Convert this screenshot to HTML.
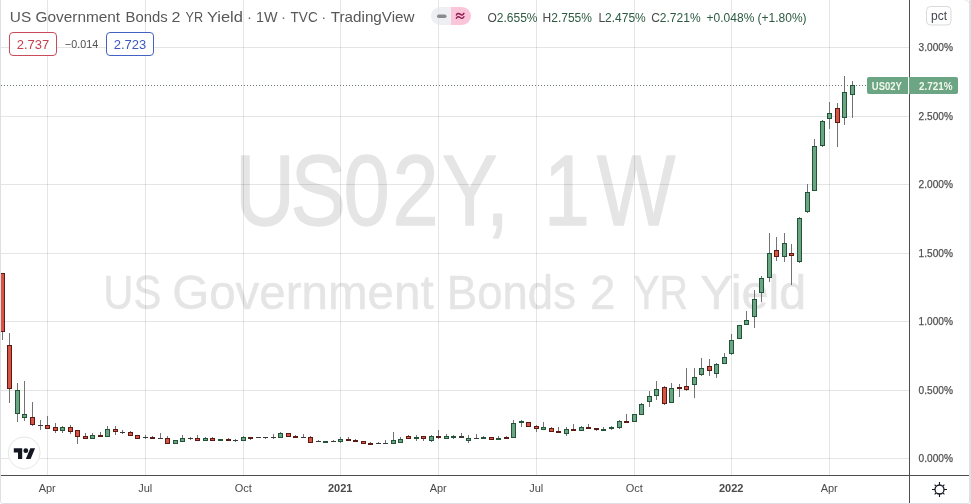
<!DOCTYPE html>
<html><head><meta charset="utf-8"><title>US02Y 1W</title>
<style>
html,body{margin:0;padding:0;background:#fff;}
body{width:971px;height:504px;overflow:hidden;position:relative;font-family:"Liberation Sans",Arial,sans-serif;}
svg{position:absolute;left:0;top:0;display:block;}
text{font-family:"Liberation Sans",Arial,sans-serif;}
</style></head><body>
<svg width="971" height="504" viewBox="0 0 971 504">
<rect x="0" y="0" width="971" height="504" fill="#fff"/>
<g fill="rgba(0,0,0,0.1)" shape-rendering="crispEdges"><rect x="1" y="47" width="908" height="1"/><rect x="1" y="116" width="908" height="1"/><rect x="1" y="184" width="908" height="1"/><rect x="1" y="253" width="908" height="1"/><rect x="1" y="321" width="908" height="1"/><rect x="1" y="390" width="908" height="1"/><rect x="1" y="458" width="908" height="1"/><rect x="47" y="0" width="1" height="475"/><rect x="145" y="0" width="1" height="475"/><rect x="243" y="0" width="1" height="475"/><rect x="340" y="0" width="1" height="475"/><rect x="438" y="0" width="1" height="475"/><rect x="536" y="0" width="1" height="475"/><rect x="634" y="0" width="1" height="475"/><rect x="731" y="0" width="1" height="475"/><rect x="829" y="0" width="1" height="475"/></g>
<g opacity="0.105" fill="#000" stroke="#000" stroke-linejoin="round">
<text transform="scale(0.823,1)" x="285.5 352.9 417.3 476.9 537.0 590.5 620 660.8 725.4" y="224.6" font-size="101" stroke-width="1.4">US02Y, 1W</text><text x="103.36" y="309" font-size="48.5" stroke-width="0.6" textLength="57.99" lengthAdjust="spacingAndGlyphs">US</text><text x="172.24" y="309" font-size="48.5" stroke-width="0.6" textLength="261.44" lengthAdjust="spacingAndGlyphs">Government</text><text x="446.85" y="309" font-size="48.5" stroke-width="0.6" textLength="129.09" lengthAdjust="spacingAndGlyphs">Bonds</text><text x="590.12" y="309" font-size="48.5" stroke-width="0.6" textLength="25.34" lengthAdjust="spacingAndGlyphs">2</text><text x="633.19" y="309" font-size="48.5" stroke-width="0.6" textLength="54.74" lengthAdjust="spacingAndGlyphs">YR</text><text x="700.3" y="309" font-size="48.5" stroke-width="0.6" textLength="105.94" lengthAdjust="spacingAndGlyphs">Yield</text>
</g>
<line x1="1" y1="85.5" x2="867" y2="85.5" stroke="#6d7d75" stroke-width="1" stroke-dasharray="1 2" shape-rendering="crispEdges"/>
<g fill="#737375" shape-rendering="crispEdges"><rect x="2" y="273" width="1" height="67"/><rect x="9" y="333" width="1" height="70"/><rect x="17" y="383" width="1" height="39"/><rect x="24" y="381" width="1" height="40"/><rect x="32" y="402" width="1" height="24"/><rect x="40" y="420" width="1" height="10"/><rect x="47" y="416" width="1" height="13"/><rect x="55" y="423" width="1" height="10"/><rect x="62" y="426" width="1" height="7"/><rect x="70" y="425" width="1" height="9"/><rect x="77" y="430" width="1" height="14"/><rect x="85" y="433" width="1" height="6"/><rect x="92" y="433" width="1" height="6"/><rect x="100" y="432" width="1" height="5"/><rect x="107" y="426" width="1" height="11"/><rect x="115" y="426" width="1" height="9"/><rect x="122" y="430" width="1" height="4"/><rect x="130" y="431" width="1" height="5"/><rect x="137" y="435" width="1" height="4"/><rect x="145" y="435" width="1" height="4"/><rect x="152" y="436" width="1" height="3"/><rect x="160" y="433" width="1" height="6"/><rect x="167" y="436" width="1" height="8"/><rect x="175" y="440" width="1" height="4"/><rect x="182" y="435" width="1" height="7"/><rect x="190" y="437" width="1" height="3"/><rect x="197" y="435" width="1" height="6"/><rect x="205" y="437" width="1" height="4"/><rect x="212" y="437" width="1" height="4"/><rect x="220" y="439" width="1" height="2"/><rect x="228" y="438" width="1" height="3"/><rect x="235" y="439" width="1" height="3"/><rect x="243" y="436" width="1" height="5"/><rect x="250" y="437" width="1" height="3"/><rect x="258" y="437" width="1" height="1"/><rect x="265" y="437" width="1" height="2"/><rect x="273" y="434" width="1" height="5"/><rect x="280" y="432" width="1" height="6"/><rect x="288" y="433" width="1" height="4"/><rect x="295" y="435" width="1" height="3"/><rect x="303" y="434" width="1" height="4"/><rect x="310" y="436" width="1" height="7"/><rect x="318" y="440" width="1" height="2"/><rect x="325" y="441" width="1" height="2"/><rect x="333" y="440" width="1" height="2"/><rect x="340" y="437" width="1" height="6"/><rect x="348" y="437" width="1" height="4"/><rect x="355" y="439" width="1" height="3"/><rect x="363" y="441" width="1" height="3"/><rect x="370" y="442" width="1" height="3"/><rect x="378" y="442" width="1" height="2"/><rect x="385" y="440" width="1" height="4"/><rect x="393" y="432" width="1" height="12"/><rect x="400" y="437" width="1" height="6"/><rect x="408" y="435" width="1" height="4"/><rect x="416" y="435" width="1" height="6"/><rect x="423" y="436" width="1" height="5"/><rect x="431" y="435" width="1" height="7"/><rect x="438" y="430" width="1" height="9"/><rect x="446" y="434" width="1" height="5"/><rect x="453" y="435" width="1" height="4"/><rect x="461" y="433" width="1" height="5"/><rect x="468" y="435" width="1" height="8"/><rect x="476" y="434" width="1" height="5"/><rect x="483" y="436" width="1" height="3"/><rect x="491" y="437" width="1" height="3"/><rect x="498" y="436" width="1" height="4"/><rect x="506" y="436" width="1" height="3"/><rect x="513" y="420" width="1" height="18"/><rect x="521" y="420" width="1" height="7"/><rect x="528" y="422" width="1" height="5"/><rect x="536" y="425" width="1" height="7"/><rect x="543" y="422" width="1" height="8"/><rect x="551" y="427" width="1" height="5"/><rect x="558" y="427" width="1" height="6"/><rect x="566" y="427" width="1" height="9"/><rect x="573" y="424" width="1" height="7"/><rect x="581" y="426" width="1" height="5"/><rect x="588" y="424" width="1" height="5"/><rect x="596" y="428" width="1" height="3"/><rect x="603" y="427" width="1" height="4"/><rect x="611" y="426" width="1" height="4"/><rect x="619" y="420" width="1" height="9"/><rect x="626" y="414" width="1" height="9"/><rect x="634" y="414" width="1" height="8"/><rect x="641" y="403" width="1" height="12"/><rect x="649" y="391" width="1" height="16"/><rect x="656" y="381" width="1" height="19"/><rect x="664" y="386" width="1" height="19"/><rect x="671" y="383" width="1" height="20"/><rect x="679" y="384" width="1" height="13"/><rect x="686" y="368" width="1" height="23"/><rect x="694" y="368" width="1" height="30"/><rect x="701" y="358" width="1" height="18"/><rect x="709" y="359" width="1" height="17"/><rect x="716" y="363" width="1" height="15"/><rect x="724" y="353" width="1" height="11"/><rect x="731" y="334" width="1" height="21"/><rect x="739" y="325" width="1" height="14"/><rect x="746" y="311" width="1" height="14"/><rect x="754" y="290" width="1" height="38"/><rect x="761" y="276" width="1" height="26"/><rect x="769" y="233" width="1" height="49"/><rect x="776" y="237" width="1" height="24"/><rect x="784" y="233" width="1" height="29"/><rect x="791" y="244" width="1" height="41"/><rect x="799" y="217" width="1" height="46"/><rect x="807" y="184" width="1" height="29"/><rect x="814" y="139" width="1" height="52"/><rect x="822" y="120" width="1" height="27"/><rect x="829" y="102" width="1" height="27"/><rect x="837" y="103" width="1" height="44"/><rect x="844" y="76" width="1" height="49"/><rect x="852" y="81" width="1" height="37"/></g>
<g shape-rendering="crispEdges"><rect x="0" y="273" width="5" height="59" fill="#5b1a13"/><rect x="1" y="274" width="3" height="57" fill="#d75442"/><rect x="7" y="345" width="5" height="44" fill="#5b1a13"/><rect x="8" y="346" width="3" height="42" fill="#d75442"/><rect x="15" y="390" width="5" height="24" fill="#225437"/><rect x="16" y="391" width="3" height="22" fill="#6ba583"/><rect x="22" y="414" width="5" height="4" fill="#225437"/><rect x="23" y="415" width="3" height="2" fill="#6ba583"/><rect x="30" y="417" width="5" height="8" fill="#5b1a13"/><rect x="31" y="418" width="3" height="6" fill="#d75442"/><rect x="38" y="425" width="5" height="1" fill="#3a3a3a"/><rect x="45" y="425" width="5" height="4" fill="#5b1a13"/><rect x="46" y="426" width="3" height="2" fill="#d75442"/><rect x="53" y="427" width="5" height="4" fill="#5b1a13"/><rect x="54" y="428" width="3" height="2" fill="#d75442"/><rect x="60" y="427" width="5" height="4" fill="#225437"/><rect x="61" y="428" width="3" height="2" fill="#6ba583"/><rect x="68" y="427" width="5" height="5" fill="#5b1a13"/><rect x="69" y="428" width="3" height="3" fill="#d75442"/><rect x="75" y="430" width="5" height="7" fill="#5b1a13"/><rect x="76" y="431" width="3" height="5" fill="#d75442"/><rect x="83" y="436" width="5" height="3" fill="#5b1a13"/><rect x="84" y="437" width="3" height="1" fill="#d75442"/><rect x="90" y="435" width="5" height="4" fill="#225437"/><rect x="91" y="436" width="3" height="2" fill="#6ba583"/><rect x="98" y="435" width="5" height="2" fill="#5b1a13"/><rect x="105" y="429" width="5" height="8" fill="#225437"/><rect x="106" y="430" width="3" height="6" fill="#6ba583"/><rect x="113" y="429" width="5" height="3" fill="#5b1a13"/><rect x="114" y="430" width="3" height="1" fill="#d75442"/><rect x="120" y="432" width="5" height="1" fill="#3a3a3a"/><rect x="128" y="432" width="5" height="4" fill="#5b1a13"/><rect x="129" y="433" width="3" height="2" fill="#d75442"/><rect x="135" y="435" width="5" height="4" fill="#5b1a13"/><rect x="136" y="436" width="3" height="2" fill="#d75442"/><rect x="143" y="437" width="5" height="1" fill="#3a3a3a"/><rect x="150" y="437" width="5" height="2" fill="#5b1a13"/><rect x="158" y="438" width="5" height="1" fill="#3a3a3a"/><rect x="165" y="438" width="5" height="6" fill="#5b1a13"/><rect x="166" y="439" width="3" height="4" fill="#d75442"/><rect x="173" y="440" width="5" height="4" fill="#225437"/><rect x="174" y="441" width="3" height="2" fill="#6ba583"/><rect x="180" y="438" width="5" height="4" fill="#225437"/><rect x="181" y="439" width="3" height="2" fill="#6ba583"/><rect x="188" y="438" width="5" height="1" fill="#3a3a3a"/><rect x="195" y="438" width="5" height="3" fill="#5b1a13"/><rect x="196" y="439" width="3" height="1" fill="#d75442"/><rect x="203" y="438" width="5" height="3" fill="#225437"/><rect x="204" y="439" width="3" height="1" fill="#6ba583"/><rect x="210" y="438" width="5" height="3" fill="#5b1a13"/><rect x="211" y="439" width="3" height="1" fill="#d75442"/><rect x="218" y="439" width="5" height="2" fill="#225437"/><rect x="226" y="439" width="5" height="2" fill="#5b1a13"/><rect x="233" y="440" width="5" height="1" fill="#3a3a3a"/><rect x="241" y="437" width="5" height="4" fill="#225437"/><rect x="242" y="438" width="3" height="2" fill="#6ba583"/><rect x="248" y="437" width="5" height="2" fill="#5b1a13"/><rect x="256" y="437" width="5" height="1" fill="#3a3a3a"/><rect x="263" y="437" width="5" height="1" fill="#3a3a3a"/><rect x="271" y="437" width="5" height="1" fill="#3a3a3a"/><rect x="278" y="433" width="5" height="5" fill="#225437"/><rect x="279" y="434" width="3" height="3" fill="#6ba583"/><rect x="286" y="433" width="5" height="4" fill="#5b1a13"/><rect x="287" y="434" width="3" height="2" fill="#d75442"/><rect x="293" y="436" width="5" height="2" fill="#5b1a13"/><rect x="301" y="437" width="5" height="1" fill="#3a3a3a"/><rect x="308" y="437" width="5" height="6" fill="#5b1a13"/><rect x="309" y="438" width="3" height="4" fill="#d75442"/><rect x="316" y="441" width="5" height="1" fill="#3a3a3a"/><rect x="323" y="441" width="5" height="2" fill="#225437"/><rect x="331" y="441" width="5" height="1" fill="#3a3a3a"/><rect x="338" y="439" width="5" height="3" fill="#225437"/><rect x="339" y="440" width="3" height="1" fill="#6ba583"/><rect x="346" y="439" width="5" height="2" fill="#5b1a13"/><rect x="353" y="440" width="5" height="2" fill="#5b1a13"/><rect x="361" y="441" width="5" height="3" fill="#5b1a13"/><rect x="362" y="442" width="3" height="1" fill="#d75442"/><rect x="368" y="443" width="5" height="2" fill="#5b1a13"/><rect x="376" y="443" width="5" height="1" fill="#3a3a3a"/><rect x="383" y="443" width="5" height="1" fill="#3a3a3a"/><rect x="391" y="440" width="5" height="4" fill="#225437"/><rect x="392" y="441" width="3" height="2" fill="#6ba583"/><rect x="398" y="439" width="5" height="4" fill="#225437"/><rect x="399" y="440" width="3" height="2" fill="#6ba583"/><rect x="406" y="436" width="5" height="3" fill="#5b1a13"/><rect x="407" y="437" width="3" height="1" fill="#d75442"/><rect x="414" y="437" width="5" height="2" fill="#225437"/><rect x="421" y="436" width="5" height="3" fill="#5b1a13"/><rect x="422" y="437" width="3" height="1" fill="#d75442"/><rect x="429" y="436" width="5" height="5" fill="#225437"/><rect x="430" y="437" width="3" height="3" fill="#6ba583"/><rect x="436" y="436" width="5" height="2" fill="#5b1a13"/><rect x="444" y="436" width="5" height="3" fill="#225437"/><rect x="445" y="437" width="3" height="1" fill="#6ba583"/><rect x="451" y="436" width="5" height="2" fill="#225437"/><rect x="459" y="436" width="5" height="2" fill="#3a3a3a"/><rect x="466" y="438" width="5" height="3" fill="#225437"/><rect x="467" y="439" width="3" height="1" fill="#6ba583"/><rect x="474" y="438" width="5" height="1" fill="#3a3a3a"/><rect x="481" y="437" width="5" height="2" fill="#225437"/><rect x="489" y="437" width="5" height="3" fill="#5b1a13"/><rect x="490" y="438" width="3" height="1" fill="#d75442"/><rect x="496" y="438" width="5" height="2" fill="#225437"/><rect x="504" y="437" width="5" height="2" fill="#5b1a13"/><rect x="511" y="423" width="5" height="15" fill="#225437"/><rect x="512" y="424" width="3" height="13" fill="#6ba583"/><rect x="519" y="421" width="5" height="2" fill="#225437"/><rect x="526" y="422" width="5" height="5" fill="#5b1a13"/><rect x="527" y="423" width="3" height="3" fill="#d75442"/><rect x="534" y="426" width="5" height="3" fill="#5b1a13"/><rect x="535" y="427" width="3" height="1" fill="#d75442"/><rect x="541" y="427" width="5" height="3" fill="#225437"/><rect x="542" y="428" width="3" height="1" fill="#6ba583"/><rect x="549" y="428" width="5" height="4" fill="#5b1a13"/><rect x="550" y="429" width="3" height="2" fill="#d75442"/><rect x="556" y="431" width="5" height="2" fill="#5b1a13"/><rect x="564" y="429" width="5" height="5" fill="#225437"/><rect x="565" y="430" width="3" height="3" fill="#6ba583"/><rect x="571" y="429" width="5" height="2" fill="#5b1a13"/><rect x="579" y="427" width="5" height="4" fill="#225437"/><rect x="580" y="428" width="3" height="2" fill="#6ba583"/><rect x="586" y="427" width="5" height="2" fill="#5b1a13"/><rect x="594" y="428" width="5" height="2" fill="#5b1a13"/><rect x="601" y="429" width="5" height="2" fill="#225437"/><rect x="609" y="427" width="5" height="2" fill="#225437"/><rect x="617" y="421" width="5" height="7" fill="#225437"/><rect x="618" y="422" width="3" height="5" fill="#6ba583"/><rect x="624" y="421" width="5" height="2" fill="#5b1a13"/><rect x="632" y="414" width="5" height="8" fill="#225437"/><rect x="633" y="415" width="3" height="6" fill="#6ba583"/><rect x="639" y="404" width="5" height="11" fill="#225437"/><rect x="640" y="405" width="3" height="9" fill="#6ba583"/><rect x="647" y="396" width="5" height="6" fill="#225437"/><rect x="648" y="397" width="3" height="4" fill="#6ba583"/><rect x="654" y="389" width="5" height="7" fill="#225437"/><rect x="655" y="390" width="3" height="5" fill="#6ba583"/><rect x="662" y="387" width="5" height="17" fill="#5b1a13"/><rect x="663" y="388" width="3" height="15" fill="#d75442"/><rect x="669" y="388" width="5" height="15" fill="#225437"/><rect x="670" y="389" width="3" height="13" fill="#6ba583"/><rect x="677" y="387" width="5" height="2" fill="#5b1a13"/><rect x="684" y="386" width="5" height="4" fill="#5b1a13"/><rect x="685" y="387" width="3" height="2" fill="#d75442"/><rect x="692" y="377" width="5" height="8" fill="#225437"/><rect x="693" y="378" width="3" height="6" fill="#6ba583"/><rect x="699" y="368" width="5" height="7" fill="#225437"/><rect x="700" y="369" width="3" height="5" fill="#6ba583"/><rect x="707" y="366" width="5" height="5" fill="#5b1a13"/><rect x="708" y="367" width="3" height="3" fill="#d75442"/><rect x="714" y="364" width="5" height="10" fill="#225437"/><rect x="715" y="365" width="3" height="8" fill="#6ba583"/><rect x="722" y="357" width="5" height="7" fill="#225437"/><rect x="723" y="358" width="3" height="5" fill="#6ba583"/><rect x="729" y="340" width="5" height="14" fill="#225437"/><rect x="730" y="341" width="3" height="12" fill="#6ba583"/><rect x="737" y="325" width="5" height="14" fill="#225437"/><rect x="738" y="326" width="3" height="12" fill="#6ba583"/><rect x="744" y="320" width="5" height="5" fill="#225437"/><rect x="745" y="321" width="3" height="3" fill="#6ba583"/><rect x="752" y="299" width="5" height="18" fill="#225437"/><rect x="753" y="300" width="3" height="16" fill="#6ba583"/><rect x="759" y="278" width="5" height="15" fill="#225437"/><rect x="760" y="279" width="3" height="13" fill="#6ba583"/><rect x="767" y="253" width="5" height="25" fill="#225437"/><rect x="768" y="254" width="3" height="23" fill="#6ba583"/><rect x="774" y="250" width="5" height="7" fill="#5b1a13"/><rect x="775" y="251" width="3" height="5" fill="#d75442"/><rect x="782" y="243" width="5" height="14" fill="#225437"/><rect x="783" y="244" width="3" height="12" fill="#6ba583"/><rect x="789" y="253" width="5" height="3" fill="#5b1a13"/><rect x="790" y="254" width="3" height="1" fill="#d75442"/><rect x="797" y="218" width="5" height="44" fill="#225437"/><rect x="798" y="219" width="3" height="42" fill="#6ba583"/><rect x="805" y="192" width="5" height="20" fill="#225437"/><rect x="806" y="193" width="3" height="18" fill="#6ba583"/><rect x="812" y="146" width="5" height="45" fill="#225437"/><rect x="813" y="147" width="3" height="43" fill="#6ba583"/><rect x="820" y="121" width="5" height="25" fill="#225437"/><rect x="821" y="122" width="3" height="23" fill="#6ba583"/><rect x="827" y="113" width="5" height="6" fill="#225437"/><rect x="828" y="114" width="3" height="4" fill="#6ba583"/><rect x="835" y="108" width="5" height="15" fill="#5b1a13"/><rect x="836" y="109" width="3" height="13" fill="#d75442"/><rect x="842" y="92" width="5" height="26" fill="#225437"/><rect x="843" y="93" width="3" height="24" fill="#6ba583"/><rect x="850" y="85" width="5" height="10" fill="#225437"/><rect x="851" y="86" width="3" height="8" fill="#6ba583"/></g>
<!-- axes -->
<g fill="#4d4d4d" shape-rendering="crispEdges">
<rect x="909" y="0" width="1" height="504"/>
<rect x="1" y="475" width="969" height="1"/>
</g>
<!-- price scale labels -->
<g font-size="11" fill="#505050" stroke="#505050" stroke-width="0.25"><text x="952.9" y="51" text-anchor="end" textLength="34.3" lengthAdjust="spacingAndGlyphs">3.000%</text><text x="952.9" y="120" text-anchor="end" textLength="34.3" lengthAdjust="spacingAndGlyphs">2.500%</text><text x="952.9" y="188" text-anchor="end" textLength="34.3" lengthAdjust="spacingAndGlyphs">2.000%</text><text x="952.9" y="257" text-anchor="end" textLength="34.3" lengthAdjust="spacingAndGlyphs">1.500%</text><text x="952.9" y="325" text-anchor="end" textLength="34.3" lengthAdjust="spacingAndGlyphs">1.000%</text><text x="952.9" y="394" text-anchor="end" textLength="34.3" lengthAdjust="spacingAndGlyphs">0.500%</text><text x="952.9" y="462" text-anchor="end" textLength="34.3" lengthAdjust="spacingAndGlyphs">0.000%</text></g>
<!-- time labels -->
<g font-size="11" fill="#4a4a4a"><text x="47.2" y="492" text-anchor="middle">Apr</text><text x="145.2" y="492" text-anchor="middle">Jul</text><text x="243.2" y="492" text-anchor="middle">Oct</text><text x="340.2" y="492" font-weight="bold" text-anchor="middle">2021</text><text x="438.2" y="492" text-anchor="middle">Apr</text><text x="536.2" y="492" text-anchor="middle">Jul</text><text x="634.2" y="492" text-anchor="middle">Oct</text><text x="731.2" y="492" font-weight="bold" text-anchor="middle">2022</text><text x="829.2" y="492" text-anchor="middle">Apr</text></g>
<!-- last price labels -->
<path d="M869,77 H908 V94 H869 Q867,94 867,92 V79 Q867,77 869,77 Z" fill="#6ba583"/>
<path d="M909,77 H956 Q958,77 958,79 V92 Q958,94 956,94 H909 Z" fill="#6ba583"/>
<text x="886.8" y="89.5" font-size="11" font-weight="bold" fill="#f4f8ec" text-anchor="middle" textLength="30" lengthAdjust="spacingAndGlyphs">US02Y</text>
<text x="952.5" y="89.5" font-size="11" font-weight="bold" fill="#f4f8ec" text-anchor="end" textLength="33.5" lengthAdjust="spacingAndGlyphs">2.721%</text>
<!-- pct button -->
<rect x="926.5" y="6.5" width="24.5" height="18.5" rx="4" fill="#fff" stroke="#d9d9d9"/>
<text x="939" y="19.6" font-size="12" fill="#434651" text-anchor="middle">pct</text>
<!-- legend -->
<g font-size="15" fill="#585858"><text x="9.87" y="21.7" textLength="110.29" lengthAdjust="spacingAndGlyphs" xml:space="preserve">US Government</text><text x="125.61" y="21.7" textLength="42.13" lengthAdjust="spacingAndGlyphs" xml:space="preserve">Bonds</text><text x="171.63" y="21.7" textLength="8.94" lengthAdjust="spacingAndGlyphs" xml:space="preserve">2</text><text x="185.56" y="21.7" textLength="17.55" lengthAdjust="spacingAndGlyphs" xml:space="preserve">YR</text><text x="206.9" y="21.7" textLength="36.09" lengthAdjust="spacingAndGlyphs" xml:space="preserve">Yield</text><text x="256.04" y="21.7" textLength="21.54" lengthAdjust="spacingAndGlyphs" xml:space="preserve">1W</text><text x="290.5" y="21.7" textLength="27.21" lengthAdjust="spacingAndGlyphs" xml:space="preserve">TVC</text><text x="330.8" y="21.7" textLength="83.74" lengthAdjust="spacingAndGlyphs" xml:space="preserve">TradingView</text><text x="249.6" y="21.7" text-anchor="middle" fill="#6a6a6a">·</text><text x="283.4" y="21.7" text-anchor="middle" fill="#6a6a6a">·</text><text x="323.7" y="21.7" text-anchor="middle" fill="#6a6a6a">·</text></g>
<!-- pill -->
<path d="M440,7 H451 V25 H440 A9,9 0 0 1 440,7 Z" fill="rgba(226,228,234,0.6)"/>
<path d="M451,7 H462 A9,9 0 0 1 462,25 H451 Z" fill="#fbc5d9"/>
<rect x="437" y="14.5" width="9.5" height="3.5" rx="1.7" fill="#8a8a8e"/>
<path d="M456.4,15.0 C457.2,13.2 458.6,13.0 460.1,14.2 S463.0,15.3 463.9,13.4 M456.4,18.3 C457.2,16.5 458.6,16.3 460.1,17.5 S463.0,18.6 463.9,16.7" fill="none" stroke="#8f1d4f" stroke-width="1.5" stroke-linecap="round"/>
<g font-size="12" xml:space="preserve">
<text x="487.5" y="21.8"><tspan fill="#4a4a4a">O</tspan><tspan fill="#2c5b41">2.655%</tspan></text>
<text x="542.6" y="21.8"><tspan fill="#4a4a4a">H</tspan><tspan fill="#2c5b41">2.755%</tspan></text>
<text x="598.4" y="21.8"><tspan fill="#4a4a4a">L</tspan><tspan fill="#2c5b41">2.475%</tspan></text>
<text x="651.2" y="21.8"><tspan fill="#4a4a4a">C</tspan><tspan fill="#2c5b41">2.721%</tspan></text>
<text x="706.6" y="21.8" fill="#2c5b41">+0.048%</text>
<text x="757.6" y="21.8" fill="#2c5b41">(+1.80%)</text>
</g>
<!-- bid/ask boxes -->
<rect x="9.5" y="32.5" width="47" height="23" rx="3.5" fill="#fff" stroke="#c94a58"/>
<text x="33" y="48.6" font-size="13" fill="#c4404e" text-anchor="middle">2.737</text>
<text x="81.6" y="48" font-size="11.5" fill="#4f4f4f" text-anchor="middle" textLength="33" lengthAdjust="spacingAndGlyphs">−0.014</text>
<rect x="106.5" y="32.5" width="47" height="23" rx="3.5" fill="#fff" stroke="#4462c4"/>
<text x="130" y="48.6" font-size="13" fill="#3b57be" text-anchor="middle">2.723</text>
<!-- TV logo -->
<circle cx="24.2" cy="452.9" r="16" fill="#fff" stroke="#e6e6e6" stroke-width="1"/>
<g transform="translate(13.8,445.9) scale(0.6)" fill="#131722">
<path d="M14 22H7V11H0V4h14v18zM28 22h-8l7.5-18h8L28 22z"/>
<circle cx="20" cy="8" r="4"/>
</g>
<!-- gear -->
<g stroke="#131722" fill="none" stroke-width="1.1">
<circle cx="939.5" cy="489.5" r="4.5" stroke-width="1.3"/>
<path d="M939.5,482 V485 M939.5,494 V497 M932,489.5 H935 M944,489.5 H947 M934.6,484.6 L935.9,485.9 M943.1,493.1 L944.4,494.4 M944.4,484.6 L943.1,485.9 M935.9,493.1 L934.6,494.4"/>
</g>
<!-- frame border -->
<path d="M0.5,-2 V501.5 Q0.5,503.5 2.5,503.5 H967.5 Q969.5,503.5 969.5,501.5 V-2" fill="none" stroke="#dfe0e5"/><rect x="970" y="0" width="1" height="504" fill="#dfe0e5"/><path d="M965,0.5 Q969.5,0.5 969.5,5" fill="none" stroke="#e6e7eb"/>
</svg>
</body></html>
